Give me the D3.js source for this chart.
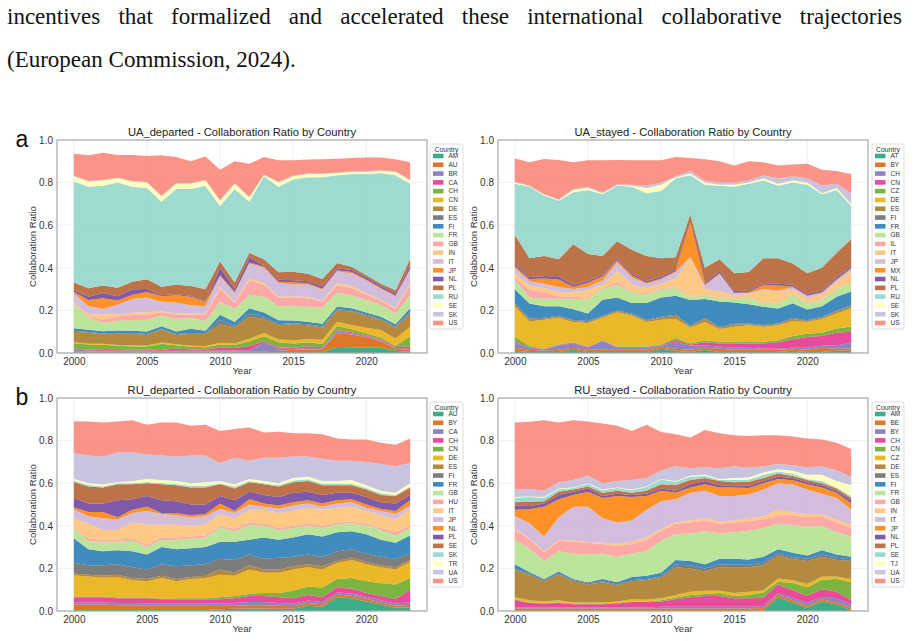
<!DOCTYPE html>
<html>
<head>
<meta charset="utf-8">
<script src="https://cdn.jsdelivr.net/npm/d3@7"></script>
<style>
  body { margin: 0; background: #fff; }
  svg { display: block; }
</style>
</head>
<body>
<svg id="fig" width="914" height="641"></svg>
<script>
// years on the x axis
const years = [2000,2001,2002,2003,2004,2005,2006,2007,2008,2009,2010,2011,2012,2013,2014,2015,2016,2017,2018,2019,2020,2021,2022,2023]
const xTickValues = [2000, 2005, 2010, 2015, 2020]
const yTickValues = [0, 0.2, 0.4, 0.6, 0.8, 1.0]

// colours are given by legend position (same in every panel)
const palette = ["#1b9e77","#d95f02","#7570b3","#e7298a","#66a61e","#e6ab02","#a6761d","#666666",
  "#1f78b4","#b2df8a","#fb9a99","#fdbf6f","#cab2d6","#ff7f00","#6a3d9a","#b15928",
  "#8dd3c7","#ffffb3","#bebada","#fb8072"]

// ---- UA_departed ----
const uaDepartedCountries = ["AM","AU","BR","CA","CH","CN","DE","ES","FI","FR","GB","IN","IT","JP","NL","PL","RU","SE","SK","US"]
const uaDepartedValues = [
  [.004,.003,.003,.003,.003,.003,.003,.003,.003,.003,.003,.003,.003,.003,.003,.003,.003,.003,.028,.027,.025,.025,.01,.005], // AM
  [.004,.004,.004,.004,.004,.004,.004,.004,.004,.004,.004,.004,.005,.005,.008,.012,.015,.015,.065,.06,.05,.03,.01,.01],    // AU
  [.01,.005,.004,.004,.005,.005,.004,.004,.004,.004,.005,.005,.005,.04,.01,.004,.004,.004,.01,.006,.004,.004,.004,.004],    // BR
  [.003,.003,.003,.003,.003,.003,.003,.01,.005,.003,.015,.012,.02,.006,.005,.006,.01,.005,.004,.004,.004,.004,.004,.01],    // CA
  [.025,.025,.025,.02,.015,.015,.03,.015,.013,.013,.013,.013,.022,.025,.025,.02,.018,.015,.02,.015,.01,.01,.005,.05],      // CH
  [.004,.004,.004,.004,.005,.005,.005,.005,.005,.006,.008,.008,.012,.015,.012,.015,.015,.02,.02,.02,.025,.035,.035,.045],  // CN
  [.05,.051,.045,.052,.055,.05,.061,.044,.056,.057,.087,.075,.103,.066,.067,.075,.065,.058,.053,.063,.057,.047,.052,.061],  // DE
  [.004,.004,.004,.004,.004,.004,.004,.004,.004,.004,.02,.008,.015,.01,.006,.005,.005,.005,.006,.005,.005,.005,.005,.008],  // ES
  [.012,.01,.01,.012,.01,.012,.012,.012,.02,.01,.025,.018,.025,.02,.018,.012,.012,.012,.012,.01,.01,.01,.01,.018],         // FI
  [.115,.055,.04,.045,.05,.055,.05,.06,.05,.045,.06,.06,.06,.075,.065,.07,.07,.075,.065,.06,.06,.055,.05,.06],            // FR
  [.005,.005,.015,.02,.025,.025,.015,.02,.015,.03,.06,.03,.07,.055,.04,.04,.04,.03,.035,.035,.025,.02,.02,.05],            // GB
  [.003,.01,.025,.01,.01,.01,.005,.005,.005,.005,.01,.005,.01,.01,.005,.005,.005,.005,.01,.01,.005,.005,.005,.005],        // IN
  [.042,.04,.025,.045,.065,.07,.045,.05,.04,.035,.05,.04,.07,.07,.065,.055,.06,.05,.055,.06,.06,.05,.055,.065],            // IT
  [.005,.03,.05,.02,.02,.025,.025,.035,.04,.02,.005,.005,.005,.005,.005,.01,.005,.005,.005,.005,.005,.005,.005,.005],      // JP
  [.01,.015,.025,.02,.025,.015,.005,.005,.005,.005,.035,.015,.025,.005,.01,.01,.01,.01,.01,.01,.01,.01,.01,.015],          // NL
  [.035,.04,.035,.04,.035,.045,.04,.045,.045,.055,.03,.03,.02,.03,.035,.04,.035,.035,.025,.015,.01,.01,.015,.03],          // PL
  [.474,.476,.468,.494,.446,.429,.399,.449,.456,.486,.26,.439,.24,.39,.401,.433,.453,.478,.412,.435,.475,.52,.54,.354],    // RU
  [.025,.025,.025,.02,.025,.025,.025,.025,.025,.025,.025,.025,.02,.005,.02,.015,.015,.015,.01,.01,.01,.01,.015,.015],      // SE
  [.003,.003,.003,.003,.003,.003,.003,.003,.003,.003,.003,.003,.003,.003,.003,.003,.003,.003,.003,.003,.003,.003,.003,.003], // SK
  [.102,.12,.127,.107,.122,.122,.19,.122,.102,.11,.142,.102,.155,.082,.102,.072,.065,.067,.064,.062,.065,.06,.057,.082]    // US
]

// ---- UA_stayed ----
const uaStayedCountries = ["AT","BY","CH","CN","CZ","DE","ES","FI","FR","GB","IL","IT","JP","MX","NL","PL","RU","SE","SK","US"]
const uaStayedValues = [
  [.01,.005,.005,.005,.015,.005,.005,.005,.005,.005,.02,.01,.005,.015,.005,.005,.005,.005,.005,.01,.005,.005,.01,.01],     // AT
  [.015,.01,.005,.01,.01,.01,.01,.01,.01,.01,.01,.01,.01,.01,.015,.01,.01,.01,.01,.01,.01,.02,.01,.01],                  // BY
  [.02,.01,.005,.02,.02,.01,.04,.01,.01,.01,.005,.03,.02,.01,.01,.01,.01,.005,.005,.005,.01,.01,.015,.03],                // CH
  [.005,.003,.003,.003,.003,.003,.003,.003,.003,.003,.003,.01,.005,.015,.015,.02,.02,.025,.03,.04,.05,.045,.06,.05],      // CN
  [.025,.005,.003,.003,.003,.003,.003,.003,.003,.003,.003,.01,.005,.01,.008,.008,.01,.008,.01,.015,.015,.015,.02,.025],   // CZ
  [.145,.115,.135,.125,.095,.11,.105,.16,.145,.115,.115,.09,.075,.085,.06,.07,.075,.07,.07,.07,.055,.065,.07,.085],       // DE
  [.01,.01,.005,.005,.005,.005,.005,.005,.005,.005,.01,.015,.005,.015,.005,.01,.005,.005,.005,.01,.005,.005,.01,.01],     // ES
  [.004,.004,.004,.004,.004,.004,.004,.004,.004,.004,.004,.004,.004,.004,.004,.004,.004,.004,.004,.004,.004,.004,.004,.004], // FI
  [.065,.07,.055,.045,.05,.035,.075,.06,.05,.08,.09,.09,.12,.09,.12,.10,.09,.085,.07,.07,.05,.05,.065,.065],              // FR
  [.045,.03,.035,.035,.05,.065,.05,.06,.05,.04,.04,.035,.015,.015,.015,.02,.03,.02,.025,.04,.03,.03,.035,.04],            // GB
  [.01,.035,.03,.01,.01,.005,.005,.015,.005,.005,.005,.005,.003,.003,.003,.003,.003,.003,.003,.003,.003,.003,.003,.005],  // IL
  [.02,.02,.02,.02,.02,.04,.015,.05,.03,.025,.02,.04,.18,.03,.03,.01,.015,.055,.05,.02,.02,.02,.03,.05],                  // IT
  [.025,.02,.02,.025,.015,.015,.02,.04,.035,.02,.02,.03,.005,.015,.08,.01,.005,.005,.005,.01,.01,.01,.01,.01],            // JP
  [.01,.01,.025,.035,.01,.02,.02,.01,.01,.005,.005,.005,.16,.003,.005,.003,.003,.02,.025,.005,.003,.003,.003,.005],       // MX
  [.01,.01,.01,.015,.008,.008,.008,.01,.008,.008,.008,.008,.008,.008,.01,.008,.008,.008,.008,.008,.008,.008,.01,.01],     // NL
  [.136,.088,.095,.08,.192,.127,.087,.08,.112,.117,.087,.058,.03,.072,.055,.084,.087,.117,.12,.10,.097,.107,.115,.126],   // PL
  [.24,.335,.285,.275,.245,.30,.29,.26,.295,.295,.315,.37,.185,.39,.345,.405,.415,.365,.34,.38,.415,.345,.295,.155],      // RU
  [.005,.003,.003,.003,.01,.01,.005,.003,.005,.025,.03,.005,.008,.01,.005,.01,.005,.01,.01,.01,.01,.005,.01,.01],         // SE
  [.003,.003,.003,.003,.005,.005,.005,.003,.005,.01,.01,.005,.012,.01,.01,.01,.01,.015,.025,.02,.02,.035,.02,.05],        // SK
  [.11,.11,.165,.185,.125,.125,.15,.115,.115,.12,.105,.09,.06,.10,.10,.08,.09,.06,.06,.055,.068,.075,.06,.09]             // US
]

// ---- RU_departed ----
const ruDepartedCountries = ["AU","BY","CA","CH","CN","DE","ES","FI","FR","GB","HU","IT","JP","NL","PL","SE","SK","TR","UA","US"]
const ruDepartedValues = [
  [.005,.005,.005,.005,.005,.005,.005,.005,.005,.005,.008,.01,.012,.012,.01,.01,.025,.02,.065,.06,.045,.03,.015,.018],    // AU
  [.025,.025,.025,.022,.022,.02,.02,.02,.02,.02,.015,.015,.015,.015,.015,.012,.012,.012,.012,.012,.012,.01,.01,.01],      // BY
  [.01,.01,.01,.01,.01,.01,.01,.01,.01,.01,.012,.012,.015,.015,.012,.012,.012,.01,.01,.01,.01,.01,.01,.012],              // CA
  [.025,.025,.025,.023,.023,.025,.02,.02,.02,.02,.02,.023,.028,.028,.028,.026,.026,.023,.023,.023,.018,.02,.02,.06],      // CH
  [.003,.003,.003,.003,.003,.003,.003,.005,.005,.005,.01,.01,.01,.015,.02,.035,.04,.045,.04,.05,.055,.06,.07,.055],       // CN
  [.10,.094,.089,.097,.082,.077,.097,.08,.09,.095,.105,.095,.115,.095,.095,.10,.09,.085,.075,.085,.08,.075,.07,.075],     // DE
  [.008,.008,.008,.01,.01,.01,.01,.01,.01,.01,.025,.015,.02,.015,.015,.015,.015,.015,.01,.01,.01,.01,.01,.01],            // ES
  [.05,.045,.05,.05,.05,.045,.055,.06,.055,.055,.05,.06,.05,.05,.055,.045,.045,.045,.045,.04,.04,.04,.04,.03],            // FI
  [.115,.075,.065,.065,.075,.07,.08,.08,.08,.08,.08,.085,.07,.10,.085,.09,.095,.095,.09,.085,.09,.08,.075,.085],          // FR
  [.045,.04,.045,.04,.05,.035,.033,.045,.045,.045,.067,.05,.07,.055,.045,.045,.04,.04,.037,.037,.042,.045,.035,.035],     // GB
  [.005,.01,.01,.01,.01,.01,.012,.01,.01,.01,.008,.01,.01,.01,.01,.01,.01,.01,.008,.008,.008,.01,.015,.01],               // HU
  [.045,.07,.045,.045,.075,.095,.06,.06,.05,.05,.055,.05,.06,.065,.07,.07,.075,.075,.07,.07,.06,.06,.06,.08],             // IT
  [.04,.035,.055,.05,.045,.065,.05,.045,.04,.04,.025,.025,.025,.015,.02,.025,.02,.015,.02,.02,.015,.02,.025,.015],        // JP
  [.01,.02,.03,.01,.015,.02,.005,.01,.01,.01,.025,.01,.025,.015,.015,.015,.015,.015,.015,.015,.015,.01,.015,.025],        // NL
  [.045,.04,.04,.08,.05,.05,.06,.055,.05,.045,.035,.05,.035,.04,.04,.045,.04,.04,.035,.03,.035,.03,.035,.025],            // PL
  [.075,.08,.075,.075,.07,.06,.075,.075,.08,.08,.055,.055,.045,.05,.05,.05,.05,.045,.035,.035,.035,.035,.035,.035],       // SE
  [.006,.006,.005,.005,.005,.006,.006,.006,.008,.008,.005,.008,.005,.005,.005,.008,.008,.008,.008,.008,.008,.008,.005,.005], // SK
  [.009,.009,.01,.005,.01,.014,.014,.014,.012,.017,.01,.012,.01,.01,.01,.012,.012,.012,.012,.017,.012,.012,.01,.015],     // TR
  [.12,.13,.13,.14,.135,.115,.115,.115,.13,.125,.085,.125,.085,.11,.12,.10,.095,.105,.095,.09,.11,.125,.125,.095],        // UA
  [.15,.16,.16,.145,.15,.14,.155,.16,.14,.145,.15,.135,.157,.118,.122,.11,.11,.115,.105,.10,.105,.10,.10,.115]            // US
]

// ---- RU_stayed ----
const ruStayedCountries = ["AM","BE","BY","CH","CN","CZ","DE","ES","FI","FR","GB","IN","IT","JP","NL","PL","SE","TJ","UA","US"]
const ruStayedValues = [
  [0,0,0,0,0,0,0,0,0,0,0,0,0,0,0,0,0,.002,.065,.04,.015,.045,.03,.005],                                                  // AM
  [.012,.012,.012,.012,.012,.012,.012,.012,.012,.012,.012,.012,.012,.012,.012,.012,.012,.012,.012,.01,.01,.01,.01,.01],   // BE
  [.005,.005,.005,.005,.005,.005,.005,.005,.005,.005,.008,.008,.008,.008,.008,.008,.008,.008,.008,.012,.012,.012,.02,.015], // BY
  [.035,.02,.018,.02,.015,.015,.015,.018,.025,.025,.025,.035,.045,.05,.05,.04,.04,.04,.04,.035,.035,.035,.03,.02],        // CH
  [.003,.003,.003,.003,.003,.003,.003,.003,.003,.003,.005,.008,.01,.01,.015,.01,.015,.025,.012,.035,.04,.045,.06,.085],   // CN
  [.01,.01,.007,.01,.005,.005,.005,.007,.01,.008,.01,.012,.015,.015,.01,.015,.015,.01,.015,.012,.015,.015,.012,.015],     // CZ
  [.13,.12,.095,.12,.10,.085,.095,.075,.085,.092,.095,.13,.11,.09,.11,.12,.115,.118,.108,.10,.108,.093,.078,.085],        // DE
  [.005,.005,.005,.005,.005,.005,.005,.005,.005,.005,.008,.012,.015,.015,.015,.012,.012,.012,.012,.01,.01,.01,.01,.008],  // ES
  [.02,.008,.005,.01,.005,.005,.01,.01,.015,.015,.017,.023,.02,.02,.025,.028,.025,.028,.018,.02,.015,.02,.015,.012],      // FI
  [.115,.11,.085,.095,.12,.13,.12,.12,.11,.115,.15,.12,.13,.155,.12,.125,.135,.135,.12,.13,.135,.115,.105,.095],          // FR
  [.045,.045,.04,.05,.055,.055,.045,.05,.045,.055,.045,.05,.05,.05,.045,.045,.045,.04,.04,.045,.045,.045,.045,.04],       // GB
  [.005,.005,.005,.005,.005,.005,.005,.01,.01,.01,.01,.005,.01,.01,.01,.01,.015,.015,.025,.015,.015,.01,.015,.015],       // IN
  [.06,.07,.07,.105,.16,.165,.115,.10,.10,.13,.13,.11,.13,.13,.12,.115,.11,.125,.125,.13,.115,.095,.10,.07],              // IT
  [.03,.065,.14,.085,.055,.07,.095,.125,.11,.065,.05,.03,.025,.03,.04,.04,.03,.03,.02,.02,.025,.03,.025,.03],             // JP
  [.02,.015,.015,.02,.015,.015,.01,.01,.01,.01,.01,.01,.015,.015,.01,.01,.01,.01,.01,.01,.01,.01,.01,.015],               // NL
  [.015,.02,.01,.015,.01,.01,.015,.015,.01,.015,.02,.025,.02,.015,.02,.015,.02,.015,.015,.01,.01,.01,.01,.01],            // PL
  [.022,.022,.017,.012,.007,.012,.012,.012,.012,.017,.022,.017,.015,.01,.005,.01,.01,.015,.01,.01,.005,.01,.005,.01],     // SE
  [.003,.003,.003,.003,.003,.003,.003,.003,.003,.003,.003,.003,.005,.005,.005,.01,.01,.01,.01,.015,.02,.03,.03,.05],      // TJ
  [.035,.035,.03,.03,.035,.035,.03,.03,.045,.04,.04,.07,.035,.035,.05,.055,.045,.03,.025,.025,.035,.04,.05,.04],          // UA
  [.315,.315,.33,.28,.28,.255,.28,.26,.23,.25,.18,.15,.145,.175,.165,.145,.15,.145,.135,.135,.135,.125,.13,.13]           // US
]

const panels = [
  {title: "UA_departed - Collaboration Ratio by Country", countries: uaDepartedCountries, values: uaDepartedValues,
   left: 57, top: 140, tag: "a", legendX: 430, legendW: 33},
  {title: "UA_stayed - Collaboration Ratio by Country", countries: uaStayedCountries, values: uaStayedValues,
   left: 498, top: 140, tag: null, legendX: 872, legendW: 32},
  {title: "RU_departed - Collaboration Ratio by Country", countries: ruDepartedCountries, values: ruDepartedValues,
   left: 57, top: 398, tag: "b", legendX: 430, legendW: 33},
  {title: "RU_stayed - Collaboration Ratio by Country", countries: ruStayedCountries, values: ruStayedValues,
   left: 498, top: 398, tag: null, legendX: 872, legendW: 32}
]

const plotW = 370, plotH = 213
const font = "Arial, 'Liberation Sans', Helvetica, sans-serif"
const serif = "'Times New Roman', 'Liberation Serif', serif"
const svg = d3.select("#fig")

// paragraph text above the figure (first line justified)
const line1 = "incentives that formalized and accelerated these international collaborative trajectories"
const t1 = svg.append("text").attr("x", 7).attr("y", 23.5)
  .style("font-family", serif).style("font-size", "23px").attr("fill", "#111")
  .text(line1)
const natural = t1.node().getComputedTextLength()
const gaps = line1.split(" ").length - 1
t1.attr("word-spacing", Math.max(0, (895 - natural) / gaps))
svg.append("text").attr("x", 7).attr("y", 66.5)
  .style("font-family", serif).style("font-size", "23px").attr("fill", "#111")
  .text("(European Commission, 2024).")

panels.forEach(p => {
  const g = svg.append("g").attr("transform", `translate(${p.left},${p.top})`)

  const x = d3.scaleLinear().domain([2000 - 1.15, 2023 + 1.15]).range([0, plotW])
  const y = d3.scaleLinear().domain([0, 1]).range([plotH, 0])

  // grid
  g.append("g").selectAll("line").data(yTickValues).join("line")
    .attr("x1", 0).attr("x2", plotW).attr("y1", d => y(d)).attr("y2", d => y(d))
    .attr("stroke", "#ebebeb").attr("stroke-width", 0.8)
  g.append("g").selectAll("line").data(xTickValues).join("line")
    .attr("x1", d => x(d)).attr("x2", d => x(d)).attr("y1", 0).attr("y2", plotH)
    .attr("stroke", "#ebebeb").attr("stroke-width", 0.8)

  // stacked areas
  const rows = years.map((yr, i) => {
    const r = {year: yr}
    p.countries.forEach((c, k) => { r[c] = p.values[k][i] })
    return r
  })
  const series = d3.stack().keys(p.countries)(rows)
  const area = d3.area()
    .x(d => x(d.data.year))
    .y0(d => y(d[0]))
    .y1(d => y(d[1]))
  g.append("g").selectAll("path").data(series).join("path")
    .attr("fill", (d, i) => palette[i])
    .attr("fill-opacity", 0.85)
    .attr("d", area)

  // frame
  g.append("rect").attr("width", plotW).attr("height", plotH)
    .attr("fill", "none").attr("stroke", "#a8a8a8").attr("stroke-width", 1.2)

  // axes
  const xAxis = g.append("g").attr("transform", `translate(0,${plotH})`)
    .call(d3.axisBottom(x).tickValues(xTickValues).tickFormat(d3.format("d")).tickSize(0).tickPadding(5))
  const yAxis = g.append("g")
    .call(d3.axisLeft(y).tickValues(yTickValues).tickFormat(d3.format(".1f")).tickSize(0).tickPadding(4))
  ;[xAxis, yAxis].forEach(a => {
    a.select(".domain").remove()
    a.selectAll("text").style("font-family", font).style("font-size", "10px").attr("fill", "#333")
  })

  // labels
  g.append("text").attr("x", plotW / 2).attr("y", -4).attr("text-anchor", "middle")
    .style("font-family", font).style("font-size", "11.2px").attr("fill", "#222").text(p.title)
  g.append("text").attr("x", plotW / 2).attr("y", plotH + 21).attr("text-anchor", "middle")
    .style("font-family", font).style("font-size", "9.5px").attr("fill", "#333").text("Year")
  g.append("text").attr("transform", `translate(-21,${plotH / 2}) rotate(-90)`).attr("text-anchor", "middle")
    .style("font-family", font).style("font-size", "9.5px").attr("fill", "#333").text("Collaboration Ratio")

  if (p.tag) {
    g.append("text").attr("x", -35).attr("y", 7).attr("text-anchor", "middle")
      .style("font-family", font).style("font-size", "23px").attr("fill", "#111").text(p.tag)
  }

  // legend
  const lg = svg.append("g").attr("transform", `translate(${p.legendX},${p.top + 4})`)
  lg.append("rect").attr("width", p.legendW).attr("height", 185).attr("rx", 2)
    .attr("fill", "#fff").attr("fill-opacity", 0.8).attr("stroke", "#d4d4d4").attr("stroke-width", 0.8)
  lg.append("text").attr("x", p.legendW / 2).attr("y", 7.5).attr("text-anchor", "middle")
    .style("font-family", font).style("font-size", "6.8px").attr("fill", "#333").text("Country")
  const items = lg.selectAll("g.item").data(p.countries).join("g").attr("class", "item")
    .attr("transform", (d, i) => `translate(0,${12 + i * 8.79})`)
  items.append("rect").attr("x", 3).attr("y", -2.3).attr("width", 10.5).attr("height", 4.6)
    .attr("fill", (d, i) => palette[i]).attr("fill-opacity", 0.85)
  items.append("text").attr("x", 18.5).attr("y", 2.3)
    .style("font-family", font).style("font-size", "6.5px").attr("fill", "#333").text(d => d)
})
</script>
</body>
</html>
